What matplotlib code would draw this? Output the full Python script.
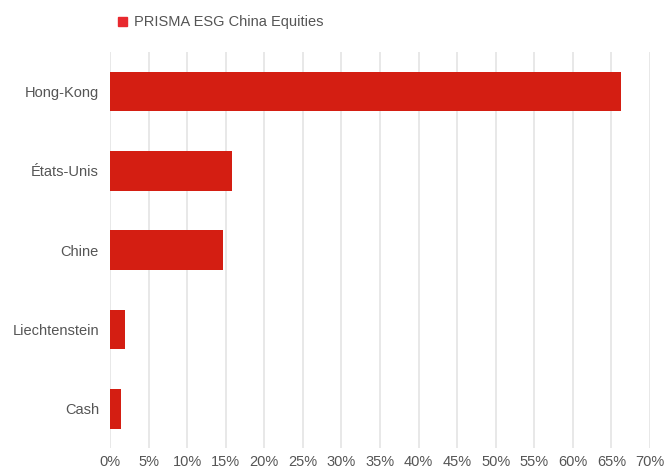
import numpy as np
import matplotlib.pyplot as plt
from matplotlib.patches import Patch

# Répartition géographique du fonds
pays = ['Hong-Kong', 'États-Unis', 'Chine', 'Liechtenstein', 'Cash']
poids = [66.2, 15.8, 14.6, 2.0, 1.4]
ticks_x = np.arange(0, 75, 5)
serie = 'PRISMA ESG China Equities'

plt.rcParams['font.family'] = ['Liberation Sans', 'DejaVu Sans']
gris = '#555555'
rouge = '#d41e12'

fig = plt.figure(figsize=(6.65, 4.72), dpi=100)
ax = fig.add_axes([0.1654, 0.05, 0.812, 0.84])

y = np.arange(len(pays))
ax.barh(y, poids, height=0.5, color=rouge, zorder=3)

ax.set_ylim(len(pays) - 0.5, -0.5)
ax.set_xlim(0, 70)
ax.set_yticks(y)
ax.set_yticklabels(pays, fontsize=10.5, color=gris)
ax.set_xticks(ticks_x)
ax.set_xticklabels([f'{t}%' for t in ticks_x], fontsize=10.5, color=gris)
ax.tick_params(axis='both', length=0)
ax.tick_params(axis='y', pad=8)
ax.tick_params(axis='x', pad=5)

ax.grid(axis='x', color='#e2e2e2', linewidth=1.1, zorder=0)
for s in ax.spines.values():
    s.set_visible(False)

fig.legend(handles=[Patch(color='#e8292e', label=serie)], loc='upper left',
           bbox_to_anchor=(0.158, 0.995), frameon=False, fontsize=10.5,
           handlelength=0.6, handleheight=0.6, handletextpad=0.5, labelcolor=gris)

fig.savefig('out.png', dpi=100)
